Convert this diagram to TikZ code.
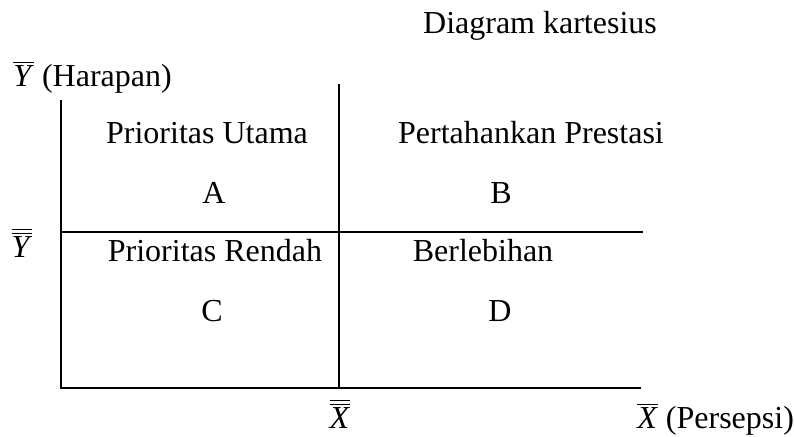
\documentclass[tikz,border=0pt]{standalone}
\usepackage{fontspec}
\setmainfont{Liberation Serif}
\newcommand{\ibar}[1]{$\overline{\mbox{\textit{#1}}}$}
\newcommand{\iibar}[1]{$\overline{\overline{\mbox{\textit{#1}}}}$}
\begin{document}
\begin{tikzpicture}[x=0.5pt,y=-0.5pt,
  lbl/.style={inner sep=0pt, anchor=base, font=\fontsize{16}{19}\selectfont},
  lblw/.style={lbl, anchor=base west},
  axisline/.style={line width=1pt, line cap=rect}]
\useasboundingbox (0,0) rectangle (794,436);
% frame coordinates
\coordinate (ytop) at (61,101);
\coordinate (o) at (61,388);
\coordinate (xend) at (640,388);
\coordinate (mtop) at (339,85);
\coordinate (mbot) at (339,388);
\coordinate (hl) at (61,232);
\coordinate (hr) at (642,232);
\draw[axisline] (ytop) -- (o) -- (xend);
\draw[axisline] (mtop) -- (mbot);
\draw[axisline] (hl) -- (hr);
% labels
\node[lbl] (title) at (540,33) {Diagram kartesius};
\node[lblw] (ylab) at (13,86) {\ibar{Y} (Harapan)};
\node[lbl] (ymean) at (22,257) {\iibar{Y}};
\node[lbl] (xmean) at (340,428) {\iibar{X}};
\node[lblw] (xlab) at (637,428) {\ibar{X} (Persepsi)};
\node[lbl] (q1) at (207,143) {Prioritas Utama};
\node[lbl] (qa) at (214,203) {A};
\node[lbl] (q2) at (531,143) {Pertahankan Prestasi};
\node[lbl] (qb) at (501,203) {B};
\node[lbl] (q3) at (215,261) {Prioritas Rendah};
\node[lbl] (qc) at (212,321) {C};
\node[lbl] (q4) at (483,261) {Berlebihan};
\node[lbl] (qd) at (500,321) {D};
\end{tikzpicture}
\end{document}
